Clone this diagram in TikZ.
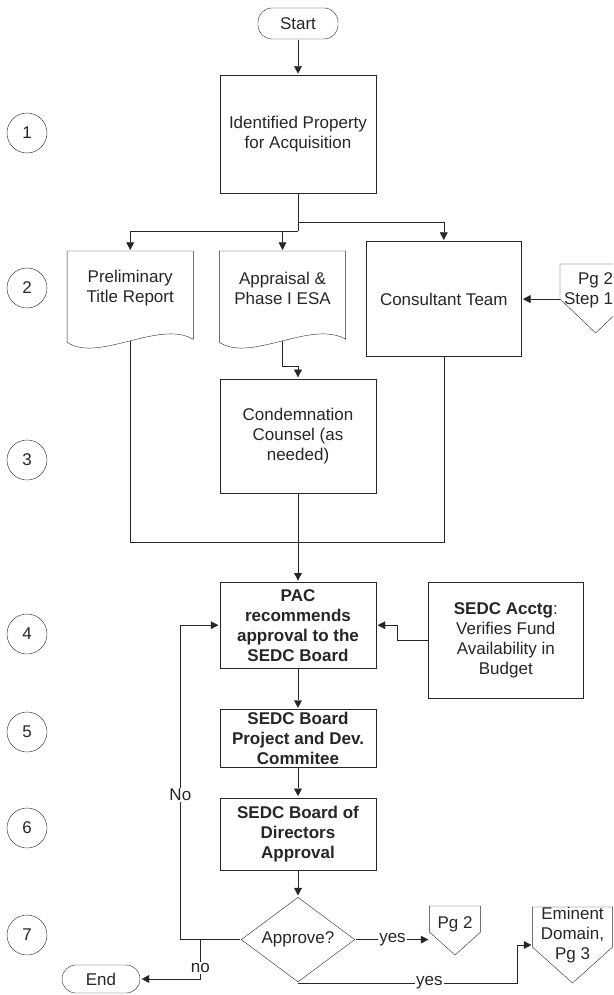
\documentclass[tikz,border=0pt]{standalone}
\usepackage{fontspec}
\setmainfont{Liberation Sans}
\usetikzlibrary{arrows.meta, positioning, shapes.geometric}

% document outline with wavy bottom, drawn round a named node
\newcommand{\docframe}[1]{\draw (#1.north west) -- (#1.north east) -- ([yshift=-14pt]#1.south east)
  .. controls +(-34pt,20pt) and +(31pt,-21pt) .. ([yshift=-17pt]#1.south west) -- cycle;}
% off-page connector: node name, side drop, point drop
\newcommand{\offpageframe}[3]{\draw (#1.north west) -- (#1.north east) -- ([yshift=-#2]#1.north east)
  -- ([yshift=-#3]#1.north) -- ([yshift=-#2]#1.north west) -- cycle;}

\begin{document}
\begin{tikzpicture}[x=1pt, y=1pt, font=\fontsize{17}{20}\selectfont, color=black!85]
	\tikzset{>={Triangle[length=9pt,width=9pt]}, line width=1.3pt,
		box/.style={draw, minimum width=156pt, inner sep=1pt, align=center},
		bbox/.style={box, font=\fontsize{17}{20}\selectfont\bfseries},
		term/.style={draw, rounded corners=14pt, minimum width=80pt, minimum height=31pt},
		docnode/.style={minimum width=125pt, minimum height=73pt, inner sep=1pt, align=center},
		offpage/.style={anchor=north, inner xsep=0pt, align=center},
		decision/.style={draw, diamond, aspect=1.34, minimum width=114pt, minimum height=85pt, inner sep=0pt},
		stepnum/.style={draw, circle, minimum size=40pt, inner sep=0pt},
		lbl/.style={fill=white, inner sep=1pt}}
	\path[use as bounding box, clip] (0,0) rectangle (613,-995);

	\node[term] (start) at (298,-23.5) {Start};
	\node[box, minimum height=118pt, below=35pt of start] (ident) {Identified Property\\for Acquisition};
	\node[docnode, below=57pt of ident, xshift=-15.5pt] (appraisal) {Appraisal \&\\Phase I ESA};
	\node[docnode, left=26pt of appraisal] (prelim) {Preliminary\\Title Report};
	\node[box, minimum width=155pt, minimum height=115pt, right=20pt of appraisal.north east, anchor=north west, yshift=10pt] (consult) {Consultant Team};
	\node[offpage, minimum width=70pt, inner ysep=8pt, right=38pt of consult.north east, anchor=north west, yshift=-23pt] (pgone) {Pg 2\\Step 1\hspace*{14pt}};
	\node[box, minimum height=114pt, below=53pt of appraisal, xshift=15.5pt] (condemn) {Condemnation\\Counsel (as\\needed)};
	\node[bbox, minimum height=86pt, below=88pt of condemn] (pac) {PAC\\recommends\\approval to the\\SEDC Board};
	\node[box, minimum width=155pt, minimum height=116pt, right=51pt of pac.north east, anchor=north west] (acctg) {\textbf{SEDC Acctg}:\\Verifies Fund\\Availability in\\Budget};
	\node[bbox, minimum height=58pt, below=40pt of pac] (board) {SEDC Board\\Project and Dev.\\Commitee};
	\node[bbox, minimum height=72pt, below=29pt of board] (directors) {SEDC Board of\\Directors\\Approval};
	\node[decision, below=26pt of directors] (approve) {Approve?};
	\node[term, minimum width=78pt, minimum height=28pt] (end) at (101,-979) {End};
	\node[offpage, minimum width=50pt, inner ysep=10pt] (pgtwo) at (455,-906) {Pg 2};
	\node[offpage, minimum width=79pt, inner ysep=0pt] (eminent) at (572.5,-907) {Eminent\\Domain,\\Pg 3};

	\foreach \n/\y in {1/133, 2/288, 3/460, 4/634, 5/732, 6/828, 7/935}
		\node[stepnum] (s\n) at (27,-\y) {\n};

	\docframe{prelim}
	\docframe{appraisal}
	\offpageframe{pgone}{35pt}{69pt}
	\offpageframe{pgtwo}{26pt}{49pt}
	\offpageframe{eminent}{40pt}{76pt}

	\draw[->] (start) -- (ident);
	\draw (ident.south) -- ++(0,-37pt) coordinate (fork);
	\draw[->] (fork) -| (prelim.north);
	\draw[->] (fork) -| (appraisal.north);
	\draw[->] ([yshift=-28pt]ident.south) -| (consult.north);
	\draw[->] (consult.east -| pgone.west) -- (consult.east);

	\coordinate (prelimout) at ([yshift=-16pt]prelim.south);
	\coordinate (approut) at ([yshift=-16pt]appraisal.south);
	\coordinate (join) at ([yshift=-49pt]condemn.south);
	\draw[->] (approut) |- ([yshift=12pt]condemn.north) -- (condemn.north);
	\draw (prelimout) |- (join) -| (consult.south);
	\draw[->] (condemn) -- (pac);
	\draw[->] (acctg.west) -- ++(-30pt,0) |- (pac.east);
	\draw[->] (pac) -- (board);
	\draw[->] (board) -- (directors);
	\draw[->] (directors) -- (approve);

	\draw[->] (approve.west) -- ++(-60pt,0) |- node[lbl, pos=0.23] {No} (pac.west);
	\draw[->] ([xshift=-40pt]approve.west) |- node[lbl, pos=0.36] {no} (end.east);
	\draw[->] (approve.east) -- node[lbl] {yes} (approve.east -| pgtwo.west);
	\draw[->] (approve.south) -- node[lbl, pos=0.6] {yes} ++(219pt,0) |- ([yshift=-38pt]eminent.north west);
\end{tikzpicture}
\end{document}
